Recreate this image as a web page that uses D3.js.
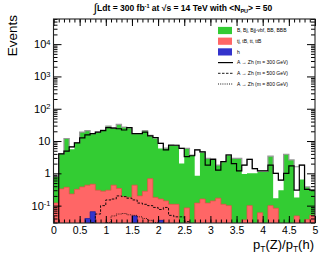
<!DOCTYPE html>
<html>
<head>
<meta charset="utf-8">
<script src="https://cdnjs.cloudflare.com/ajax/libs/d3/7.8.5/d3.min.js"></script>
<style>
  body { margin: 0; background: #fff; }
  svg { display: block; font-family: "Liberation Sans", Arial, Helvetica, sans-serif; }
</style>
</head>
<body>
<div id="chart"></div>
<script>
// pT(Z)/pT(h), 50 bins of 0.1 from 0 to 5
const binWidth = 0.1;

// top of the grey outline (white where the green stack is lower)
const envelope = [0.8, 4.1, 12, 6.6, 9, 19, 21, 17, 19, 22,
  29, 26, 33, 27, 26, 17, 17, 21, 15, 12.7,
  8.5, 6.0, 7.6, 7.4, 5.9, 5.9, 3.7, 5.3, 4.6, 2.9,
  2.8, 1.8, 2.3, 3.8, 2.9, 2.9, 1.8, 2.7, 1.4, 1.2,
  1.2, 3.4, 1.0, 0.62, 3.9, 2.6, 1.6, 1.8, 0.38, 0.3];

// stacked backgrounds (cumulative tops)
const bkgGreen = [0.8, 4.1, 12, 5.6, 9, 19, 21, 17, 19, 22,
  29, 25, 33, 27, 25, 17, 17, 20, 14, 12,
  5.9, 6.0, 7.4, 7.2, 2.0, 5.9, 3.7, 0.84, 4.4, 2.9,
  2.8, 1.8, 2.3, 3.6, 2.9, 2.9, 0.95, 1.0, 1.0, 1.1,
  1.1, 3.4, 0.17, 0.3, 3.9, 2.6, 0.18, 0.65, 0.38, 0.3];

const bkgRed = [0.12, 0.33, 0.37, 0.23, 0.32, 0.38, 0.43, 0.46, 0.3, 0.28,
  0.3, 0.43, 0.34, 0.19, 0.18, 0.43, 0.2, 0.28, 0.68, 0.18,
  0.16, 0.14, 0.11, 0.11, 0, 0.085, 0, 0.12, 0.16, 0.12,
  0.14, 0.17, 0.11, 0.1, 0, 0, 0.036, 0.1, 0, 0.06,
  0, 0.1, 0.083, 0, 0, 0, 0.048, 0, 0.037, 0.05];

const bkgBlue = [0, 0, 0, 0, 0, 0, 0.04, 0.065, 0, 0,
  0, 0, 0, 0, 0, 0.048, 0, 0, 0, 0,
  0.035, 0, 0, 0, 0, 0, 0, 0, 0, 0,
  0, 0, 0, 0, 0, 0, 0, 0, 0, 0,
  0, 0, 0, 0, 0, 0, 0, 0, 0, 0];

// A -> Zh signals
const sig300 = [0, 4.0, 4.9, 6.6, 8.8, 12.6, 15.5, 17, 19, 21,
  26, 25, 24, 22, 26, 17, 17, 19, 14.5, 12.7,
  8.5, 5.3, 7.4, 7.4, 5.9, 3.3, 3.5, 5.3, 4.6, 1.8,
  2.7, 1.25, 2.3, 3.7, 2.0, 1.2, 1.8, 2.7, 1.4, 1.2,
  1.2, 1.8, 1.0, 0.62, 1.0, 1.7, 0.3, 1.8, 0.32, 0.3];

const sig500 = [0, 0, 0, 0, 0, 0, 0, 0.03, 0.055, 0.1,
  0.15, 0.16, 0.2, 0.19, 0.17, 0.15, 0.12, 0.11, 0.1, 0.088,
  0.076, 0.088, 0.05, 0.045, 0.045, 0.032, 0, 0, 0, 0,
  0, 0, 0, 0, 0, 0, 0, 0, 0, 0,
  0, 0, 0, 0, 0, 0, 0, 0, 0, 0];

const sig800 = [0, 0, 0, 0, 0, 0, 0, 0, 0, 0,
  0.03, 0.048, 0.055, 0.057, 0.052, 0.05, 0.045, 0.04, 0.035, 0.03,
  0, 0, 0, 0, 0, 0, 0, 0, 0, 0,
  0, 0, 0, 0, 0, 0, 0, 0, 0, 0,
  0, 0, 0, 0, 0, 0, 0, 0, 0, 0];

const xTickLabels = ['0', '0.5', '1', '1.5', '2', '2.5', '3', '3.5', '4', '4.5', '5'];
const yTickExps = [-1, 0, 1, 2, 3, 4];

const fillLabels = ['B, Bj, Bjj-vbf, BB, BBB', 'tj, tB, tt, ttB', 'h'];
const lineLabels = ['A \u2192 Zh (m = 300 GeV)', 'A \u2192 Zh (m = 500 GeV)', 'A \u2192 Zh (m = 800 GeV)'];

const width = 332, height = 257;
const frame = { left: 53.5, right: 315, top: 19, bottom: 223 };
const yMin = 0.029, yMax = 6e4;

const svg = d3.select('#chart').append('svg')
  .attr('width', width)
  .attr('height', height);

svg.append('rect').attr('width', width).attr('height', height).attr('fill', '#fff');

const x = d3.scaleLinear().domain([0, 5]).range([frame.left, frame.right]);
const y = d3.scaleLog().domain([yMin, yMax]).range([frame.bottom, frame.top]);

svg.append('clipPath').attr('id', 'plotClip')
  .append('rect')
  .attr('x', frame.left).attr('y', frame.top)
  .attr('width', frame.right - frame.left)
  .attr('height', frame.bottom - frame.top);

const stepPoints = vals => {
  const pts = vals.map((v, i) => [i * binWidth, v]);
  pts.push([vals.length * binWidth, vals[vals.length - 1]]);
  return pts;
};
const yv = v => y(Math.max(v, yMin * 0.5));

const area = d3.area().curve(d3.curveStepAfter)
  .x(d => x(d[0])).y0(frame.bottom + 2).y1(d => yv(d[1]));
const line = d3.line().curve(d3.curveStepAfter)
  .x(d => x(d[0])).y(d => yv(d[1]));

const plot = svg.append('g').attr('clip-path', 'url(#plotClip)');

plot.append('path').attr('d', area(stepPoints(envelope))).attr('fill', '#fff');
plot.append('path').attr('d', area(stepPoints(bkgGreen))).attr('fill', '#33cc33');
plot.append('path').attr('d', area(stepPoints(bkgRed))).attr('fill', '#ff6666')
  .attr('stroke', '#f04848').attr('stroke-width', 0.7);
plot.append('path').attr('d', area(stepPoints(bkgBlue))).attr('fill', '#3333cc')
  .attr('stroke', '#1a1a99').attr('stroke-width', 0.7);
plot.append('path').attr('d', line(stepPoints(envelope)))
  .attr('fill', 'none').attr('stroke', '#999').attr('stroke-width', 1.2);

plot.append('path').attr('d', line(stepPoints(sig800)))
  .attr('fill', 'none').attr('stroke', '#000').attr('stroke-width', 0.8)
  .attr('stroke-dasharray', '1,1.2');
plot.append('path').attr('d', line(stepPoints(sig500)))
  .attr('fill', 'none').attr('stroke', '#000').attr('stroke-width', 0.9)
  .attr('stroke-dasharray', '2.5,1.5');
plot.append('path').attr('d', line(stepPoints(sig300)))
  .attr('fill', 'none').attr('stroke', '#000').attr('stroke-width', 1.2);

// axes, ticks drawn inward
const yMajor = yTickExps.map(e => Math.pow(10, e));
const yMinor = y.ticks().filter(t => !yMajor.some(m => Math.abs(t / m - 1) < 1e-6));
const xMajor = xTickLabels.map(Number);
const xMinor = d3.range(0, 51).map(i => i / 10);

const clean = g => { g.select('.domain').remove(); g.selectAll('line').attr('stroke', '#000'); };

svg.append('g').attr('transform', `translate(${frame.left},0)`)
  .call(d3.axisLeft(y).tickValues(yMinor).tickSize(-4).tickFormat(''))
  .call(clean);
const yAxisG = svg.append('g').attr('transform', `translate(${frame.left},0)`)
  .call(d3.axisLeft(y).tickValues(yMajor).tickSize(-8).tickPadding(3).tickFormat(''))
  .call(clean);
yAxisG.selectAll('.tick text').each(function (d, i) {
  const e = yTickExps[i];
  const t = d3.select(this).attr('font-size', 11).attr('fill', '#000')
    .attr('font-family', '"Liberation Sans", Arial, sans-serif');
  if (e === 0) { t.text('1'); return; }
  if (e === 1) { t.text('10'); return; }
  t.text('10');
  t.append('tspan').attr('dy', '-0.45em').attr('font-size', 7.5).text(e);
});

svg.append('g').attr('transform', `translate(${frame.right},0)`)
  .call(d3.axisRight(y).tickValues(yMinor).tickSize(-4).tickFormat(''))
  .call(clean);
svg.append('g').attr('transform', `translate(${frame.right},0)`)
  .call(d3.axisRight(y).tickValues(yMajor).tickSize(-8).tickFormat(''))
  .call(clean);

svg.append('g').attr('transform', `translate(0,${frame.bottom})`)
  .call(d3.axisBottom(x).tickValues(xMinor).tickSize(-3.5).tickFormat(''))
  .call(clean);
svg.append('g').attr('transform', `translate(0,${frame.bottom})`)
  .call(d3.axisBottom(x).tickValues(xMajor).tickSize(-7).tickPadding(4)
    .tickFormat((d, i) => xTickLabels[i]))
  .call(clean)
  .call(g => g.selectAll('text').attr('font-size', 10.5).attr('fill', '#000')
    .attr('font-family', '"Liberation Sans", Arial, sans-serif'));

svg.append('g').attr('transform', `translate(0,${frame.top})`)
  .call(d3.axisTop(x).tickValues(xMinor).tickSize(-3.5).tickFormat(''))
  .call(clean);
svg.append('g').attr('transform', `translate(0,${frame.top})`)
  .call(d3.axisTop(x).tickValues(xMajor).tickSize(-7).tickFormat(''))
  .call(clean);

svg.append('rect')
  .attr('x', frame.left).attr('y', frame.top)
  .attr('width', frame.right - frame.left)
  .attr('height', frame.bottom - frame.top)
  .attr('fill', 'none').attr('stroke', '#222').attr('stroke-width', 1.1);

// axis titles
svg.append('text')
  .attr('transform', `translate(17,15) rotate(-90)`)
  .attr('text-anchor', 'end')
  .attr('font-size', 13.5)
  .text('Events');

const xTitle = svg.append('text')
  .attr('x', frame.right - 1).attr('y', 248.5)
  .attr('text-anchor', 'end')
  .attr('font-size', 13);
xTitle.append('tspan').text('p');
xTitle.append('tspan').attr('font-size', 8.5).attr('dy', 3.5).text('T');
xTitle.append('tspan').attr('dy', -3.5).text('(Z)/p');
xTitle.append('tspan').attr('font-size', 8.5).attr('dy', 3.5).text('T');
xTitle.append('tspan').attr('dy', -3.5).text('(h)');

// title
const title = svg.append('text')
  .attr('x', 183).attr('y', 11)
  .attr('text-anchor', 'middle')
  .attr('font-size', 8.5)
  .attr('font-weight', 'bold');
title.append('tspan').attr('font-weight', 'normal').attr('font-size', 12).attr('dy', 1).text('\u222B');
title.append('tspan').attr('dy', -1).text('Ldt = 300 fb');
title.append('tspan').attr('font-size', 5.5).attr('dy', -3).text('-1');
title.append('tspan').attr('dy', 3).text(' at \u221As = 14 TeV with <N');
title.append('tspan').attr('font-size', 5.5).attr('dy', 2).text('PU');
title.append('tspan').attr('dy', -2).text('> = 50');

// legend
const legColors = ['#33cc33', '#ff6666', '#3333cc'];
const legX = 218, legY0 = 30.5, legStep = 10.7;
const leg = svg.append('g');
fillLabels.forEach((lab, i) => {
  const cy = legY0 + i * legStep;
  leg.append('rect').attr('x', legX).attr('y', cy - 3.6)
    .attr('width', 14).attr('height', 7.2).attr('fill', legColors[i]);
  leg.append('text').attr('x', legX + 19).attr('y', cy + 1.8)
    .attr('font-size', 5).text(lab);
});
const dashes = [null, '2.5,1.5', '1,1.2'];
lineLabels.forEach((lab, i) => {
  const cy = legY0 + (i + 3) * legStep;
  leg.append('line').attr('x1', legX).attr('x2', legX + 15)
    .attr('y1', cy).attr('y2', cy)
    .attr('stroke', '#000').attr('stroke-width', i === 0 ? 1.2 : 0.9)
    .attr('stroke-dasharray', dashes[i]);
  leg.append('text').attr('x', legX + 19).attr('y', cy + 1.8)
    .attr('font-size', 5).text(lab);
});
</script>
</body>
</html>
